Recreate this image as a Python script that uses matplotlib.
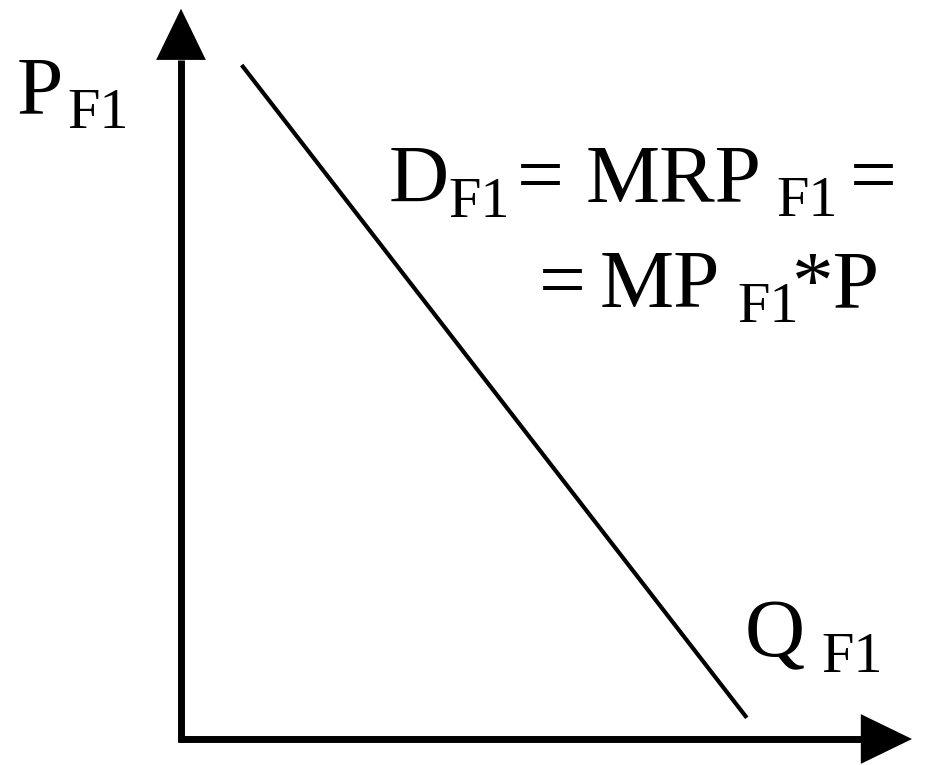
import matplotlib
matplotlib.use('Agg')
import matplotlib.pyplot as plt

# demand curve D = MRP, in quantity / price units
demand_q = [0.83, 7.74]
demand_p = [9.22, 0.29]
axis_max_q = 10.0
axis_max_p = 9.99

W, H = 949, 765
scale = 73.1          # pixels per unit
x0, y0 = 181, 739     # origin in pixels (from top-left)

fig = plt.figure(figsize=(W / 100, H / 100), dpi=100)
ax = fig.add_axes([0, 0, 1, 1])
ax.set_xlim(-x0 / scale, (W - x0) / scale)
ax.set_ylim(-(H - y0) / scale, y0 / scale)
ax.axis('off')

head_len = 0.70
head_w = 0.34
lw_axis = 5

# axes with arrowheads
ax.plot([0, 0], [-0.04, axis_max_p - head_len], color='black', lw=lw_axis, solid_capstyle='butt')
ax.plot([-0.04, axis_max_q - head_len], [0, 0], color='black', lw=lw_axis, solid_capstyle='butt')
ax.fill([-head_w, head_w, 0], [axis_max_p - head_len] * 2 + [axis_max_p], color='black', lw=0)
ax.fill([axis_max_q - head_len] * 2 + [axis_max_q], [-head_w, head_w, 0], color='black', lw=0)

# demand line
ax.plot(demand_q, demand_p, color='black', lw=3, solid_capstyle='butt')

font = 'Liberation Serif'
big = 60
small = 42


def label(s, px, py, size):
    fig.text(px / W, 1 - py / H, s, fontsize=size, family=font, ha='left', va='baseline')


label('P', 17, 113, big)
label('F1', 67, 128, small)

label('D', 389, 202, big)
label('F1', 448, 217, small)
label('=', 517, 202, big)
label('MRP', 586, 202, big)
label('F1', 776, 216, small)
label('=', 850, 202, big)

label('=', 539, 307, big)
label('MP', 600, 307, big)
label('F1', 737, 322, small)
label('*P', 792, 307, big)

label('Q', 745, 656, big)
label('F1', 821, 672, small)

fig.savefig('out.png', dpi=100)
